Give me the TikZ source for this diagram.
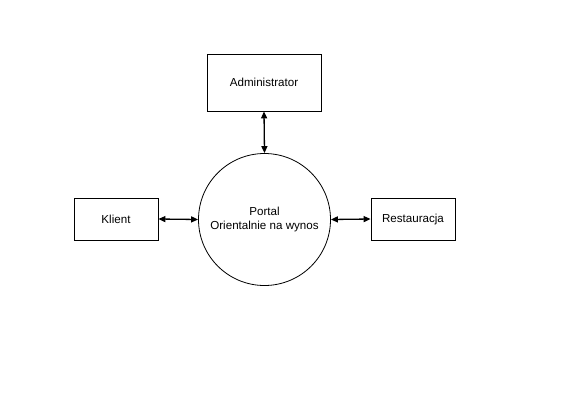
\documentclass[tikz,border=0pt]{standalone}
\usepackage{fontspec}
\setmainfont{Liberation Sans}
\usetikzlibrary{arrows.meta}
\begin{document}
\begin{tikzpicture}[x=1pt,y=-1pt,
  box/.style={draw,line width=0.8pt,minimum width=#1,inner sep=0pt,font=\fontsize{11.6}{13}\selectfont},
  proc/.style={draw,circle,line width=0.8pt,minimum size=132pt,inner sep=0pt,align=center,font=\fontsize{11.6}{14.5}\selectfont},
  flow/.style={line width=1.3pt,{Triangle[length=7pt,width=6pt]}-{Triangle[length=7pt,width=6pt]}}]
\useasboundingbox (0,0) rectangle (572,402);
\node[box=114pt,minimum height=57pt] (adm) at (264,82.5) {Administrator};
\node[box=84pt,minimum height=42pt] (kl) at (116,219) {Klient};
\node[box=84pt,minimum height=42pt] (res) at (413,219) {Restauracja};
\node[proc] (portal) at (264.5,219.5) {Portal\\Orientalnie na wynos};
\draw[flow] (adm.south) -- (portal.north);
\draw[flow] (kl.east) -- (portal.west);
\draw[flow] (portal.east) -- (res.west);
\end{tikzpicture}
\end{document}
